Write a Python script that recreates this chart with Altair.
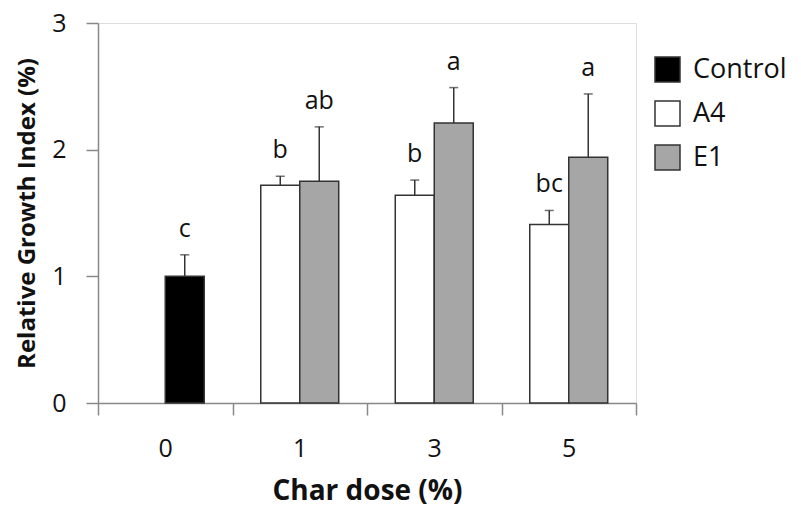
import altair as alt
import pandas as pd

doses = ["0", "1", "1", "3", "3", "5", "5"]
series = ["Control", "A4", "E1", "A4", "E1", "A4", "E1"]
means = [1.00, 1.72, 1.75, 1.64, 2.21, 1.41, 1.94]
errors = [0.17, 0.07, 0.43, 0.12, 0.28, 0.11, 0.50]
letters = ["c", "b", "ab", "b", "a", "bc", "a"]

dose_order = ["0", "1", "3", "5"]
series_order = ["Control", "A4", "E1"]
series_colors = ["#000000", "#ffffff", "#a6a6a6"]

df = pd.DataFrame({
    "dose": doses,
    "series": series,
    "mean": means,
    "err": errors,
    "letter": letters,
})

FONT = "Open Sans"
TXT = "#111111"

base = alt.Chart(df).transform_calculate(
    slot="datum.series == 'A4' ? 'left' : 'right'",
    top="datum.mean + datum.err",
)

x_enc = alt.X(
    "dose:N",
    sort=dose_order,
    scale=alt.Scale(paddingInner=0, paddingOuter=0),
    axis=alt.Axis(
        title="Char dose (%)",
        labelAngle=0,
        tickBand="extent",
        labelFontSize=25,
        labelFont=FONT,
        labelColor=TXT,
        labelPadding=21,
        titleFontSize=28,
        titleFont=FONT,
        titleFontWeight="bold",
        titleColor=TXT,
        titlePadding=16,
        domainColor="#888888",
        domainWidth=1.5,
        tickColor="#888888",
        tickWidth=1.5,
        tickSize=12,
    ),
)
xoff = alt.XOffset(
    "slot:N",
    scale=alt.Scale(domain=["left", "right"], paddingInner=0, paddingOuter=0.725),
)

y_scale = alt.Scale(domain=[0, 3])

bars = base.mark_bar(stroke="#333333", strokeWidth=1.5).encode(
    x=x_enc,
    xOffset=xoff,
    y=alt.Y(
        "mean:Q",
        scale=y_scale,
        axis=alt.Axis(
            title="Relative Growth Index (%)",
            values=[0, 1, 2, 3],
            format="d",
            grid=False,
            labelFontSize=25,
            labelFont=FONT,
            labelColor=TXT,
            labelPadding=20,
            titleFontSize=24,
            titleFont=FONT,
            titleFontWeight="bold",
            titleColor=TXT,
            titlePadding=12,
            domainColor="#888888",
            domainWidth=1.5,
            tickColor="#888888",
            tickWidth=1.5,
            tickSize=12,
        ),
    ),
    fill=alt.Fill(
        "series:N",
        scale=alt.Scale(domain=series_order, range=series_colors),
        legend=alt.Legend(
            title=None,
            orient="none",
            legendX=556,
            legendY=33,
            symbolType="square",
            symbolSize=625,
            symbolStrokeColor="#333333",
            symbolStrokeWidth=1.5,
            labelFontSize=27,
            labelFont=FONT,
            labelColor=TXT,
            labelOffset=12,
            labelLimit=200,
            rowPadding=13,
        ),
    ),
)

rules = base.mark_rule(color="#333333", strokeWidth=1.5).encode(
    x=x_enc,
    xOffset=xoff,
    y=alt.Y("mean:Q", scale=y_scale),
    y2="top:Q",
)

caps = base.mark_tick(color="#333333", thickness=1.5, size=9, orient="horizontal").encode(
    x=x_enc,
    xOffset=xoff,
    y=alt.Y("top:Q", scale=y_scale),
)

labels = base.mark_text(
    fontSize=25, font=FONT, color=TXT, baseline="alphabetic", dy=-18
).encode(
    x=x_enc,
    xOffset=xoff,
    y=alt.Y("top:Q", scale=y_scale),
    text="letter:N",
)

chart = (
    alt.layer(bars, rules, caps, labels)
    .properties(
        width=538,
        height=380,
        autosize=alt.AutoSizeParams(type="none"),
        padding={"left": 90, "top": 15, "right": 156, "bottom": 105},
    )
    .configure_view(stroke=None)
    .configure(background="white")
)

chart.save("out.html", embed_options={"renderer": "svg", "actions": False})
